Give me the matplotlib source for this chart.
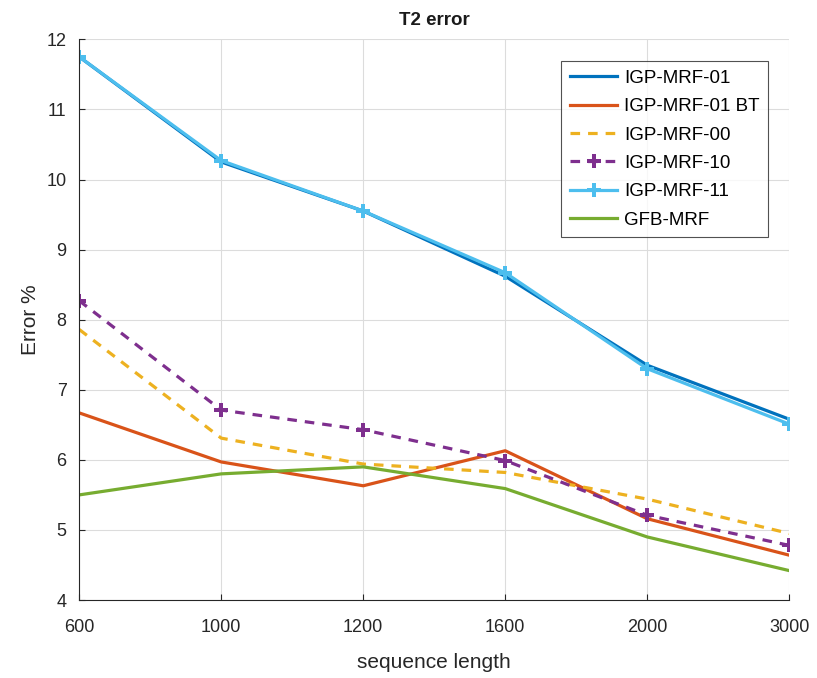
import matplotlib
matplotlib.use("Agg")
import matplotlib.pyplot as plt

plt.rcParams['font.family'] = ['Liberation Sans', 'DejaVu Sans']

# sequence lengths (categorical, evenly spaced)
seq_len = ["600", "1000", "1200", "1600", "2000", "3000"]

igp01 = [11.75, 10.25, 9.55, 8.62, 7.35, 6.58]
igp01_bt = [6.67, 5.97, 5.63, 6.13, 5.16, 4.64]
igp00 = [7.86, 6.31, 5.94, 5.82, 5.44, 4.95]
igp10 = [8.27, 6.71, 6.43, 5.99, 5.21, 4.78]
igp11 = [11.75, 10.27, 9.55, 8.67, 7.30, 6.51]
gfb = [5.50, 5.80, 5.90, 5.59, 4.90, 4.42]

x = range(len(seq_len))

fig = plt.figure(figsize=(8.17, 6.78), dpi=100)
ax = fig.add_axes([0.097, 0.115, 0.869, 0.827])

lw = 2.3
ax.plot(x, igp01, color=(0, 0.447, 0.741), lw=lw, label="IGP-MRF-01")
ax.plot(x, igp01_bt, color=(0.85, 0.325, 0.098), lw=lw, label="IGP-MRF-01 BT")
ax.plot(x, igp00, color=(0.929, 0.694, 0.125), lw=lw, ls=(0, (3, 2.5)), label="IGP-MRF-00")
ax.plot(x, igp10, color=(0.494, 0.184, 0.556), lw=lw, ls=(0, (3, 2.5)), marker="P",
        markersize=10, markeredgewidth=0, label="IGP-MRF-10")
ax.plot(x, igp11, color=(0.301, 0.745, 0.933), lw=lw, marker="P",
        markersize=10, markeredgewidth=0, label="IGP-MRF-11")
ax.plot(x, gfb, color=(0.466, 0.674, 0.188), lw=lw, label="GFB-MRF")

ax.set_xlim(0, len(seq_len) - 1)
ax.set_ylim(4, 12)
ax.set_xticks(list(x))
ax.set_xticklabels(seq_len)
ax.set_yticks(range(4, 13))
ax.grid(True, color="#dcdcdc", lw=0.8)
ax.set_axisbelow(True)
ax.tick_params(labelsize=13, direction="in", length=4, colors="#262626")
ax.tick_params(axis="x", pad=14)
ax.tick_params(axis="y", pad=9)
for side in ["top", "right"]:
    ax.spines[side].set_visible(False)
for side in ["left", "bottom"]:
    ax.spines[side].set_color("#262626")

ax.set_xlabel("sequence length", fontsize=15, color="#262626", labelpad=12)
ax.set_ylabel("Error %", fontsize=15, color="#262626", labelpad=5)
ax.set_title("T2 error", fontsize=13.5, fontweight="bold", color="#1a1a1a", pad=10)

leg = ax.legend(loc="upper right", bbox_to_anchor=(0.970, 0.961), borderaxespad=0,
                fontsize=13.5, fancybox=False, edgecolor="#262626", handlelength=2.55,
                handletextpad=0.35, labelspacing=0.6, borderpad=0.45)
leg.get_frame().set_linewidth(0.8)

fig.savefig("out.png", dpi=100)
